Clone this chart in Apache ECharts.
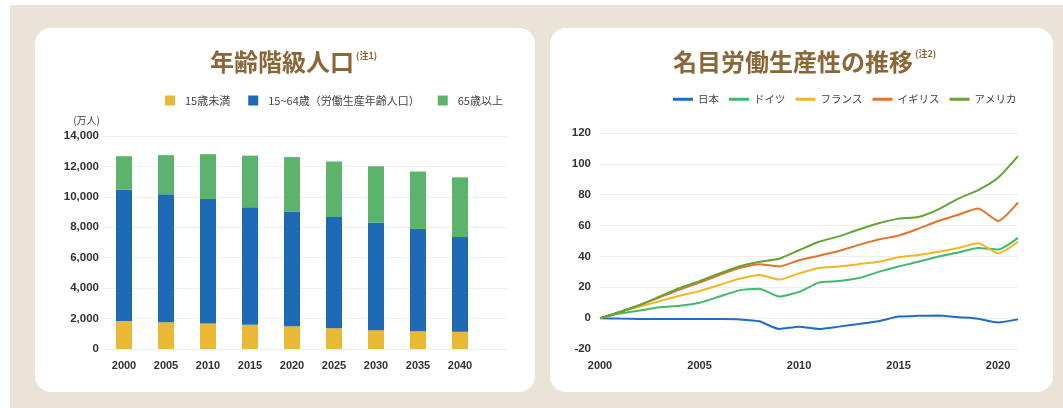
<!DOCTYPE html>
<html>
<head>
<meta charset="utf-8">
<script src="https://cdn.jsdelivr.net/npm/echarts@6/dist/echarts.min.js"></script>
<style>
html, body {
    margin: 0;
    padding: 0;
    background: #fff;
}
.wrap {
    position: relative;
    width: 1063px;
    height: 408px;
    overflow: hidden;
}
.bg {
    position: absolute;
    left: 10px;
    top: 5px;
    right: 0;
    bottom: 0;
    background: #e9e3d8;
}
.card {
    position: absolute;
    top: 28px;
    height: 364px;
    background: #fff;
    border-radius: 16px;
}
.card.left {
    left: 35px;
    width: 500px;
}
.card.right {
    left: 550px;
    width: 503px;
}
#chart {
    position: absolute;
    left: 0;
    top: 0;
    width: 1063px;
    height: 408px;
}
</style>
</head>
<body>
<div class="wrap">
    <div class="bg"></div>
    <div class="card left"></div>
    <div class="card right"></div>
    <div id="chart"></div>
</div>
<script>
// 年齢階級人口（万人）
const popYears = ['2000', '2005', '2010', '2015', '2020', '2025', '2030', '2035', '2040']
const under15 = [1847, 1759, 1684, 1595, 1503, 1363, 1240, 1169, 1142]
const age15to64 = [8622, 8409, 8173, 7728, 7509, 7310, 7076, 6722, 6213]
const over65 = [2204, 2576, 2948, 3387, 3603, 3653, 3696, 3773, 3928]

// 名目労働生産性の推移（2000年比 %）
const prodYears = [2000, 2001, 2002, 2003, 2004, 2005, 2006, 2007, 2008, 2009, 2010,
    2011, 2012, 2013, 2014, 2015, 2016, 2017, 2018, 2019, 2020, 2021]
const japan = [0, -0.3, -0.5, -0.6, -0.6, -0.5, -0.6, -0.8, -2, -7, -5.5, -7, -5.5, -3.8, -2, 1, 1.5, 1.7, 0.6, -0.4, -2.8, -0.8]
const germany = [0, 3, 5, 7, 8, 10, 14, 18, 19, 14, 17, 23, 24, 26, 30, 33.5, 36.5, 40, 42.5, 45.5, 44.5, 52]
const france = [0, 4, 7.5, 11, 14.5, 17.5, 21.5, 25.5, 28, 25, 29, 32.5, 33.5, 35, 36.5, 39.5, 41, 43, 45.5, 48.5, 42, 49.5]
const uk = [0, 4, 8.5, 13.5, 18.5, 23, 28, 32.5, 35, 33.5, 37.5, 40.5, 43.5, 47.5, 51, 53.5, 58, 63, 67, 71, 63, 75]
const usa = [0, 4, 8.5, 14, 19.5, 24, 29, 33.5, 36.5, 38.5, 44, 49.5, 53, 57.5, 61.5, 64.5, 65.5, 70.5, 77.5, 83, 91, 105]

const cjk = '"Noto Sans CJK JP", sans-serif'
const num = '"Liberation Sans", Arial, sans-serif'
const brown = '#8b6637'

const pair = (arr) => arr.map((v, i) => [prodYears[i], v])

const barSeries = (name, data, color) => ({
    name: name,
    type: 'bar',
    stack: 'pop',
    barWidth: 16,
    data: data,
    itemStyle: { color: color }
})

const lineSeries = (name, data, color) => ({
    name: name,
    type: 'line',
    xAxisIndex: 1,
    yAxisIndex: 1,
    data: pair(data),
    showSymbol: false,
    smooth: 0.2,
    lineStyle: { width: 2, color: color },
    itemStyle: { color: color }
})

const numLabel = { fontSize: 11.5, fontWeight: 'bold', color: '#333', fontFamily: num }

const myChart = echarts.init(document.getElementById('chart'))
myChart.setOption({
    animation: false,
    title: [
        {
            left: 210,
            top: 48,
            padding: 0,
            text: '{a|年齢階級人口}{b|(注1)}',
            textStyle: {
                rich: {
                    a: { fontSize: 24, fontWeight: 'bold', color: brown, fontFamily: cjk, lineHeight: 28 },
                    b: { fontSize: 9, color: brown, fontFamily: cjk, verticalAlign: 'top', padding: [3, 0, 0, 2] }
                }
            }
        },
        {
            left: 673,
            top: 48,
            padding: 0,
            text: '{a|名目労働生産性の推移}{b|(注2)}',
            textStyle: {
                rich: {
                    a: { fontSize: 24, fontWeight: 'bold', color: brown, fontFamily: cjk, lineHeight: 28 },
                    b: { fontSize: 9, color: brown, fontFamily: cjk, verticalAlign: 'top', padding: [1, 0, 0, 2] }
                }
            }
        }
    ],
    // 単位
    graphic: [
        {
            type: 'text',
            x: 100,
            y: 120,
            style: { text: '(万人)', fontSize: 10, fill: '#444', fontFamily: cjk, align: 'right', verticalAlign: 'middle' }
        }
    ],
    legend: [
        {
            left: 165,
            top: 95,
            padding: 0,
            icon: 'rect',
            itemWidth: 10,
            itemHeight: 10,
            itemGap: 18,
            textStyle: { fontSize: 11, color: '#444', fontFamily: cjk, padding: [0, 0, 0, 5] },
            data: ['15歳未満', '15~64歳（労働生産年齢人口）', '65歳以上']
        },
        {
            left: 673,
            top: 94,
            padding: 0,
            icon: 'rect',
            itemWidth: 20,
            itemHeight: 3,
            itemGap: 10,
            textStyle: { fontSize: 10.5, color: '#444', fontFamily: cjk },
            data: ['日本', 'ドイツ', 'フランス', 'イギリス', 'アメリカ']
        }
    ],
    grid: [
        // 棒グラフ
        { left: 103, top: 136, width: 378, height: 213 },
        // 折れ線
        { left: 600, top: 133, width: 418, height: 216 },
        // 棒グラフの目盛線（右へ長く伸びる）
        { left: 103, top: 136, width: 404, height: 213 }
    ],
    xAxis: [
        {
            type: 'category',
            gridIndex: 0,
            data: popYears,
            axisLine: { show: false },
            axisTick: { show: false },
            axisLabel: { margin: 11, fontSize: 11, fontWeight: 'bold', color: '#333', fontFamily: num }
        },
        {
            type: 'value',
            gridIndex: 1,
            min: 2000,
            max: 2021,
            interval: 5,
            axisLine: { show: false },
            axisTick: { show: false },
            splitLine: { show: false },
            axisLabel: {
                margin: 11,
                fontSize: 11,
                fontWeight: 'bold',
                color: '#333',
                fontFamily: num,
                showMaxLabel: false,
                formatter: (v) => v % 5 === 0 ? String(v) : ''
            }
        },
        {
            type: 'value',
            gridIndex: 2,
            min: 0,
            max: 1,
            show: false
        }
    ],
    yAxis: [
        {
            type: 'value',
            gridIndex: 0,
            min: 0,
            max: 14000,
            interval: 2000,
            axisLine: { show: false },
            axisTick: { show: false },
            splitLine: { show: false },
            axisLabel: Object.assign({ margin: 4 }, numLabel)
        },
        {
            type: 'value',
            gridIndex: 1,
            min: -20,
            max: 120,
            interval: 20,
            axisLine: { show: false },
            axisTick: { show: false },
            splitLine: { lineStyle: { color: '#eeeeee' } },
            axisLabel: Object.assign({ margin: 9 }, numLabel)
        },
        {
            type: 'value',
            gridIndex: 2,
            min: 0,
            max: 14000,
            interval: 2000,
            axisLine: { show: false },
            axisTick: { show: false },
            axisLabel: { show: false },
            splitLine: { lineStyle: { color: '#eeeeee' } }
        }
    ],
    series: [
        barSeries('15歳未満', under15, '#e9b935'),
        barSeries('15~64歳（労働生産年齢人口）', age15to64, '#1f6ab4'),
        barSeries('65歳以上', over65, '#5cb46c'),
        lineSeries('日本', japan, '#1f6cc2'),
        lineSeries('ドイツ', germany, '#3fba6c'),
        lineSeries('フランス', france, '#f1b625'),
        lineSeries('イギリス', uk, '#e3732b'),
        lineSeries('アメリカ', usa, '#63a534')
    ]
})
</script>
</body>
</html>
